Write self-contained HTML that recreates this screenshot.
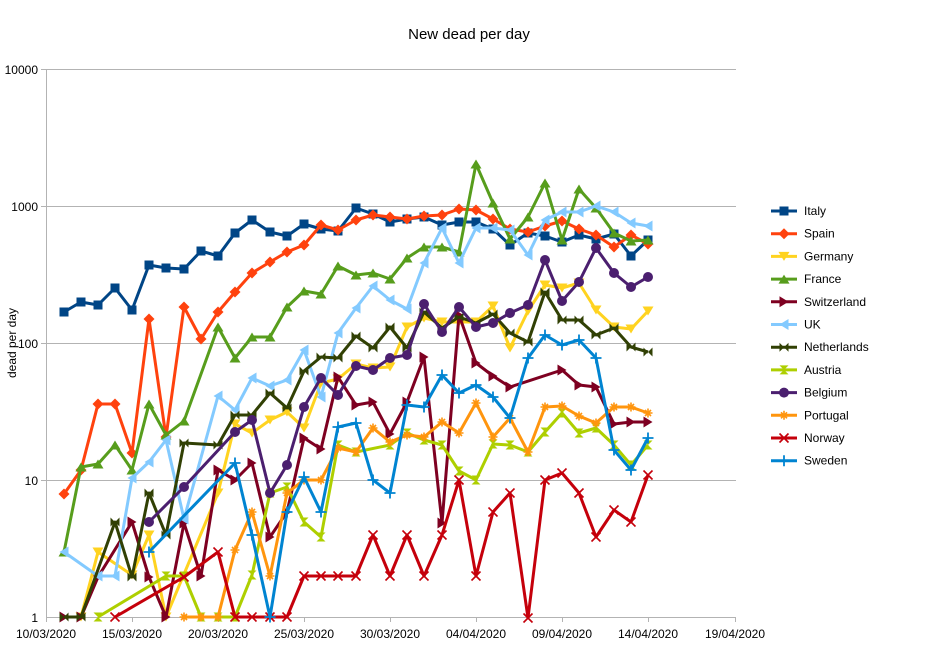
<!DOCTYPE html>
<html><head><meta charset="utf-8"><style>
body{margin:0;background:#fff}
svg{display:block;font-family:"Liberation Sans",sans-serif}
</style></head><body>
<svg id="s" width="939" height="661" xmlns="http://www.w3.org/2000/svg">
<rect width="939" height="661" fill="#fff"/>
<text x="469" y="39" font-size="15" text-anchor="middle" fill="#000">New dead per day</text>
<g stroke="#b3b3b3" stroke-width="1">
<line x1="46" y1="69.5" x2="736" y2="69.5"/>
<line x1="46" y1="206.5" x2="736" y2="206.5"/>
<line x1="46" y1="343.5" x2="736" y2="343.5"/>
<line x1="46" y1="480.5" x2="736" y2="480.5"/>
<line x1="46" y1="617.5" x2="736" y2="617.5"/>
<line x1="46.5" y1="69" x2="46.5" y2="622"/>
<line x1="41" y1="69.5" x2="46" y2="69.5"/><line x1="41" y1="206.5" x2="46" y2="206.5"/><line x1="41" y1="343.5" x2="46" y2="343.5"/><line x1="41" y1="480.5" x2="46" y2="480.5"/>
<line x1="132.5" y1="617" x2="132.5" y2="622"/><line x1="218.5" y1="617" x2="218.5" y2="622"/><line x1="304.5" y1="617" x2="304.5" y2="622"/><line x1="390.5" y1="617" x2="390.5" y2="622"/><line x1="476.5" y1="617" x2="476.5" y2="622"/><line x1="562.5" y1="617" x2="562.5" y2="622"/><line x1="648.5" y1="617" x2="648.5" y2="622"/><line x1="735.5" y1="617" x2="735.5" y2="622"/>
</g>
<g font-size="12" fill="#000" text-anchor="end">
<text x="38" y="74">10000</text><text x="38" y="211">1000</text><text x="38" y="348">100</text><text x="38" y="485">10</text><text x="38" y="622">1</text>
</g>
<g font-size="12" fill="#000" text-anchor="middle">
<text x="46" y="638">10/03/2020</text><text x="132" y="638">15/03/2020</text><text x="218" y="638">20/03/2020</text><text x="304" y="638">25/03/2020</text><text x="390" y="638">30/03/2020</text><text x="476" y="638">04/04/2020</text><text x="562" y="638">09/04/2020</text><text x="648" y="638">14/04/2020</text><text x="735" y="638">19/04/2020</text>
</g>
<text x="16" y="343" font-size="12" text-anchor="middle" transform="rotate(-90 16 343)">dead per day</text>
<g id="ser"></g>
<g id="leg" font-size="12" fill="#000"></g>
</svg>
<script>
var S=[
["Italy","#004586","sq","64,312 81,302 98,305 115,288 132,310 149,265 166,268 184,269 201,251 218,256 235,233 252,220 270,232 287,236 304,224 321,229 338,231 356,208 373,214 390,222 407,219 424,217 442,225 459,222 476,222 493,229 510,245 528,233 545,236 562,242 579,235 596,239 614,234 631,256 648,240"],
["Spain","#ff420e","di","64,494 81,470 98,404 115,404 132,453 149,319 166,437 184,307 201,339 218,312 235,292 252,273 270,262 287,252 304,245 321,225 338,230 356,220 373,215 390,217 407,219 424,216 442,215 459,209 476,210 493,219 510,229 528,232 545,226 562,221 579,229 596,235 614,247 631,235 648,244"],
["Germany","#ffd320","dn","81,617 98,552 132,575 149,535 166,617 218,493 235,424 252,433 270,420 287,412 304,428 321,383 338,379 356,364 373,368 390,367 407,327 424,318 442,322 459,322 476,322 493,306 510,348 528,311 545,285 562,288 579,283 596,310 614,327 631,329 648,311"],
["France","#579d1c","up","64,552 81,467 98,464 115,445 132,470 149,404 166,435 184,421 218,327 235,358 252,337 270,337 287,307 304,291 321,294 338,266 356,275 373,273 390,279 407,258 424,247 442,247 459,252 476,164 493,203 510,239 528,217 545,183 562,240 579,189 596,208 614,233 631,241 648,240"],
["Switzerland","#7e0021","rt","64,617 81,617 98,577 132,522 149,577 166,617 184,523 201,576 218,470 235,480 252,463 270,537 287,512 304,438 321,449 338,377 356,405 373,402 390,434 407,402 424,357 442,523 459,315 476,363 493,376 510,387 562,370 579,385 596,387 614,424 631,422 648,422"],
["UK","#83caff","lt","64,552 98,576 115,576 132,478 149,462 166,440 184,519 218,396 235,410 252,378 270,386 287,380 304,350 321,397 338,333 356,308 373,286 390,300 407,309 424,263 442,228 459,263 476,228 493,228 510,230 528,255 545,220 562,212 579,212 596,206 614,212 631,223 648,226"],
["Netherlands","#314004","bt","64,617 81,617 115,522 132,577 149,493 166,535 184,443 218,445 235,415 252,415 270,393 287,408 304,371 321,357 338,358 356,336 373,348 390,327 407,348 424,312 442,328 459,317 476,323 493,314 510,333 528,342 545,292 562,320 579,320 596,335 614,328 631,347 648,352"],
["Austria","#aecf00","hg","98,617 166,576 184,576 201,617 218,617 235,617 252,575 270,493 287,487 304,522 321,537 338,445 356,452 390,445 407,433 424,440 442,445 459,471 476,480 493,444 510,445 528,452 545,432 562,413 579,433 596,428 614,445 631,465 648,445"],
["Belgium","#4b1f6f","ci","149,522 184,487 235,432 252,420 270,493 287,465 304,407 321,378 338,395 356,366 373,370 390,358 407,355 424,304 442,332 459,307 476,327 493,323 510,313 528,305 545,260 562,301 579,282 596,248 614,273 631,287 648,277"],
["Portugal","#ff950e","st","184,617 201,617 218,617 235,550 252,512 270,576 287,493 304,480 321,480 338,448 356,452 373,428 390,442 407,435 424,437 442,422 459,433 476,403 493,437 510,418 528,452 545,407 562,406 579,416 596,423 614,407 631,407 648,413"],
["Norway","#c5000b","x","115,617 184,577 218,552 235,617 252,617 270,617 287,617 304,576 321,576 338,576 356,576 373,535 390,576 407,535 424,576 442,535 459,480 476,576 493,512 510,493 528,618 545,480 562,473 579,493 596,537 614,510 631,522 648,475"],
["Sweden","#0084d1","pl","149,552 235,463 252,535 270,617 287,512 304,477 321,512 338,427 356,423 373,480 390,493 407,405 424,407 442,375 459,393 476,385 493,397 510,418 528,358 545,335 562,345 579,340 596,358 614,450 631,470 648,438"]
];
function mk(t,x,y,c){var r=4.5;
switch(t){
case"sq":return'<rect x="'+(x-r)+'" y="'+(y-r)+'" width="9" height="9" fill="'+c+'"/>';
case"di":return'<polygon points="'+x+','+(y-r-1)+' '+(x+r+1)+','+y+' '+x+','+(y+r+1)+' '+(x-r-1)+','+y+'" fill="'+c+'"/>';
case"dn":return'<polygon points="'+(x-r-1)+','+(y-r)+' '+(x+r+1)+','+(y-r)+' '+x+','+(y+r)+'" fill="'+c+'"/>';
case"up":return'<polygon points="'+(x-r-1)+','+(y+r)+' '+(x+r+1)+','+(y+r)+' '+x+','+(y-r)+'" fill="'+c+'"/>';
case"rt":return'<polygon points="'+(x-r)+','+(y-r-1)+' '+(x-r)+','+(y+r+1)+' '+(x+r)+','+y+'" fill="'+c+'"/>';
case"lt":return'<polygon points="'+(x+r)+','+(y-r-1)+' '+(x+r)+','+(y+r+1)+' '+(x-r)+','+y+'" fill="'+c+'"/>';
case"bt":return'<polygon points="'+(x-r)+','+(y-r)+' '+x+','+y+' '+(x+r)+','+(y-r)+' '+(x+r)+','+(y+r)+' '+x+','+y+' '+(x-r)+','+(y+r)+'" fill="'+c+'"/>';
case"hg":return'<polygon points="'+(x-r)+','+(y-r)+' '+(x+r)+','+(y-r)+' '+x+','+y+' '+(x+r)+','+(y+r)+' '+(x-r)+','+(y+r)+' '+x+','+y+'" fill="'+c+'"/>';
case"ci":return'<circle cx="'+x+'" cy="'+y+'" r="5" fill="'+c+'"/>';
case"st":return'<path d="M'+(x-r)+' '+y+'H'+(x+r)+'M'+x+' '+(y-r)+'V'+(y+r)+'M'+(x-3)+' '+(y-3)+'L'+(x+3)+' '+(y+3)+'M'+(x-3)+' '+(y+3)+'L'+(x+3)+' '+(y-3)+'" stroke="'+c+'" stroke-width="1.6"/>';
case"x":return'<path d="M'+(x-r)+' '+(y-r)+'L'+(x+r)+' '+(y+r)+'M'+(x-r)+' '+(y+r)+'L'+(x+r)+' '+(y-r)+'" stroke="'+c+'" stroke-width="1.6"/>';
case"pl":return'<path d="M'+(x-r-1)+' '+y+'H'+(x+r+1)+'M'+x+' '+(y-r-1)+'V'+(y+r+1)+'" stroke="'+c+'" stroke-width="1.8"/>';
}}
var h='',lg='';
S.forEach(function(s,i){
 h+='<polyline points="'+s[3]+'" fill="none" stroke="'+s[1]+'" stroke-width="3" stroke-linejoin="round"/>';
 s[3].split(' ').forEach(function(p){var a=p.split(',');h+=mk(s[2],+a[0],+a[1],s[1]);});
 var y=211+i*22.7;
 lg+='<line x1="771" y1="'+y+'" x2="797" y2="'+y+'" stroke="'+s[1]+'" stroke-width="3"/>'+mk(s[2],784,y,s[1])+'<text x="804" y="'+(y+4)+'">'+s[0]+'</text>';
});
document.getElementById('ser').innerHTML=h;
document.getElementById('leg').innerHTML=lg;
</script>
</body></html>
